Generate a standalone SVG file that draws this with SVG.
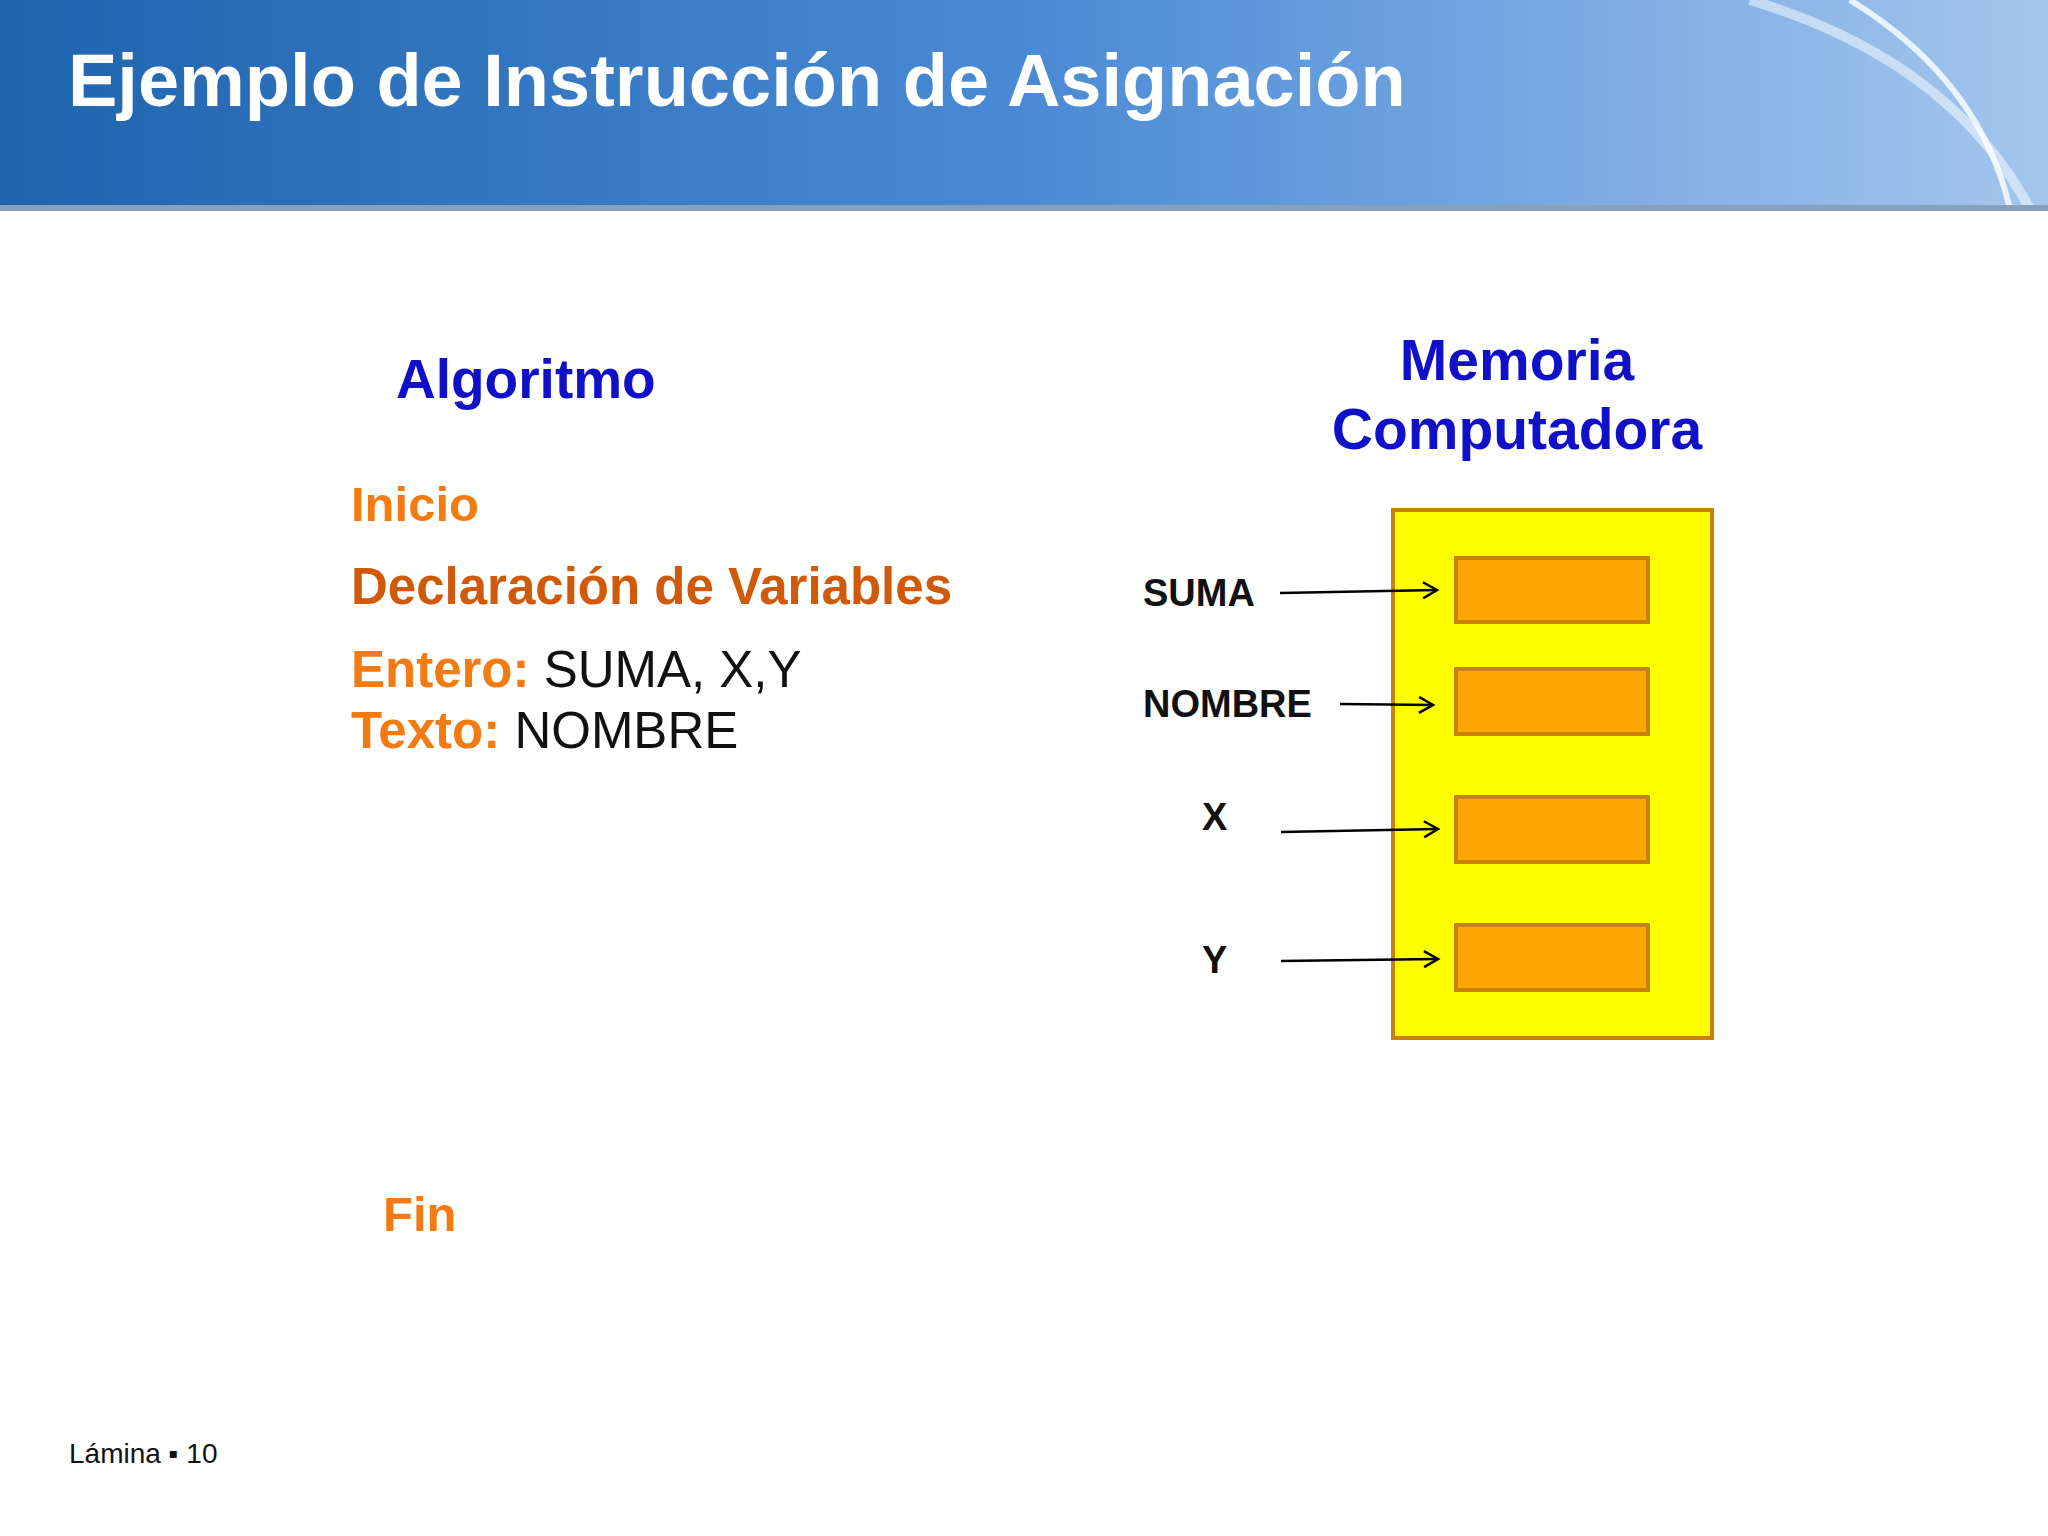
<svg xmlns="http://www.w3.org/2000/svg" width="2048" height="1536" viewBox="0 0 2048 1536">
<defs>
<linearGradient id="hg" x1="0" y1="0" x2="1" y2="0">
<stop offset="0" stop-color="#1e64ad"/><stop offset="0.5" stop-color="#4a8ad4"/><stop offset="1" stop-color="#a4c6ee"/>
</linearGradient>
<marker id="ah" markerWidth="18" markerHeight="18" refX="15" refY="9" orient="auto" markerUnits="userSpaceOnUse">
<path d="M1,1 L15,9 L1,17" fill="none" stroke="#000" stroke-width="2.5"/>
</marker>
<style>
.t{font-family:"Liberation Sans",Arial,sans-serif;font-weight:bold}
.o{fill:#f47a12}
.lab{font-size:38px;fill:#111}
.cell{fill:#ffa500;stroke:#c8820a;stroke-width:4}
.c{stroke:#000;stroke-width:2.5;fill:none;marker-end:url(#ah)}
</style>
</defs>
<rect width="2048" height="1536" fill="#fff"/>
<g id="header">
<rect width="2048" height="209" fill="url(#hg)"/>
<path d="M1750,0 Q1950,60 2030,209" fill="none" stroke="#ffffff" stroke-opacity="0.5" stroke-width="10"/>
<path d="M1850,0 Q1980,80 2010,209" fill="none" stroke="#ffffff" stroke-opacity="0.8" stroke-width="6"/>
<rect y="205" width="2048" height="6" fill="#8a9fb8"/>
<text x="68" y="106" class="t" font-size="74" fill="#fff">Ejemplo de Instrucción de Asignación</text>
</g>
<g id="algoritmo">
<text x="396" y="398" class="t" font-size="55" fill="#1010c8">Algoritmo</text>
<text x="351" y="521" class="t o" font-size="49">Inicio</text>
<text x="351" y="604" class="t" font-size="51" fill="#d05a0a">Declaración de Variables</text>
<text x="351" y="687" class="t o" font-size="51">Entero: <tspan font-weight="normal" fill="#111">SUMA, X,Y</tspan></text>
<text x="351" y="748" class="t o" font-size="51">Texto: <tspan font-weight="normal" fill="#111">NOMBRE</tspan></text>
<text x="383" y="1231" class="t o" font-size="49">Fin</text>
</g>
<g id="memoria">
<text x="1517" y="380" class="t" font-size="57" fill="#1010c8" text-anchor="middle">Memoria</text>
<text x="1517" y="449" class="t" font-size="57" fill="#1010c8" text-anchor="middle">Computadora</text>
<rect x="1393" y="510" width="319" height="528" fill="#ffff00" stroke="#c8820a" stroke-width="4"/>
<rect class="cell" x="1456" y="558" width="192" height="64"/>
<rect class="cell" x="1456" y="669" width="192" height="65"/>
<rect class="cell" x="1456" y="797" width="192" height="65"/>
<rect class="cell" x="1456" y="925" width="192" height="65"/>
</g>
<g id="labels">
<text x="1143" y="606" class="t lab">SUMA</text>
<text x="1143" y="717" class="t lab">NOMBRE</text>
<text x="1202" y="830" class="t lab">X</text>
<text x="1202" y="973" class="t lab">Y</text>
</g>
<g id="connectors">
<line class="c" x1="1280" y1="593" x2="1437" y2="590"/>
<line class="c" x1="1340" y1="704" x2="1433" y2="705"/>
<line class="c" x1="1281" y1="832" x2="1438" y2="829"/>
<line class="c" x1="1281" y1="961" x2="1438" y2="959"/>
</g>
<text x="69" y="1463" font-family="Liberation Sans,Arial,sans-serif" font-size="28" fill="#111">Lámina ▪ 10</text>
</svg>
